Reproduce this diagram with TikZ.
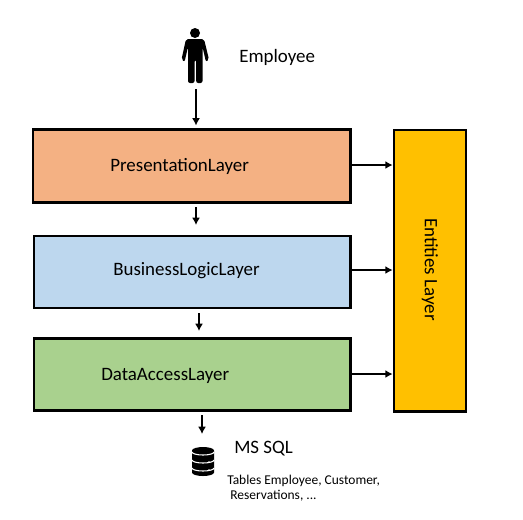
\documentclass[tikz,border=0pt]{standalone}
\usepackage{fontspec}
\usetikzlibrary{arrows.meta}
\setmainfont{Carlito}
\definecolor{presfill}{HTML}{F4B183}
\definecolor{busfill}{HTML}{BDD7EE}
\definecolor{datafill}{HTML}{A9D18E}
\definecolor{entfill}{HTML}{FFC000}
\tikzset{
  layerbox/.style={draw,line width=2pt,outer sep=0pt,inner sep=0pt,anchor=north west},
  flow/.style={-{Latex[length=5.5pt,width=6pt]},line width=1.6pt,shorten >=3pt},
  sideflow/.style={-{Latex[length=5.5pt,width=6pt]},line width=1.6pt,shorten >=1pt},
  lbl/.style={inner sep=0pt,anchor=west,font=\fontsize{14.2}{16}\selectfont},
  smalllbl/.style={inner sep=0pt,anchor=west,font=\fontsize{10.1}{12}\selectfont}
}
\begin{document}
\begin{tikzpicture}[x=0.75pt,y=-0.75pt]
    \useasboundingbox (0,0) rectangle (523,519);

    % layers
    \node[layerbox,fill=presfill,minimum width=238pt,minimum height=54.5pt] (pres) at (33,129.5) {};
    \node[layerbox,fill=busfill,minimum width=237.5pt,minimum height=54pt] (bus) at (34,236) {};
    \node[layerbox,fill=datafill,minimum width=237.5pt,minimum height=54pt] (data) at (34,338.5) {};
    \node[layerbox,fill=entfill,minimum width=54pt,minimum height=211pt] (ent) at (394,130) {};

    \node[lbl] (prestxt) at (110,166) {PresentationLayer};
    \node[lbl] (bustxt) at (113,271) {BusinessLogicLayer};
    \node[lbl] (datatxt) at (101,376) {DataAccessLayer};
    \node[inner sep=0pt,rotate=-90,font=\fontsize{14.2}{16}\selectfont] (enttxt) at (430,269.5) {Entities Layer};

    % person
    \fill (195,33) circle (5);
    \fill[rounded corners=1.5pt] (186,39) -- (204,39) -- (209,59.5) -- (206,62) -- (202.5,47)
        -- (202.5,83) -- (196.2,83) -- (196.2,60) -- (194.5,60) -- (194.5,83) -- (188,83)
        -- (188,47) -- (184.5,62) -- (181.5,59.5) -- cycle;
    \coordinate (person) at (196,89);
    \node[lbl] (emp) at (239,57) {Employee};

    % database
    \fill (192,450.5) arc (180:360:11 and 3.5) -- (214,472.5) arc (0:180:11 and 3.5) -- cycle;
    \foreach \yy in {452,460,468} {
        \draw[white,line width=0.8pt] (192,\yy) arc (180:0:11 and 3);
    }
    \foreach \yy in {462,470} {
        \fill[white] (209,\yy) circle (0.9);
    }
    \coordinate (dbin) at (202,415);
    \node[lbl] (sql) at (234,449) {MS SQL};
    \node[smalllbl] (tbl) at (227,481) {Tables Employee, Customer,};
    \node[smalllbl] (res) at (230,496) {Reservations, ...};

    % arrows
    \draw[flow] (person) -- (person |- pres.north);
    \draw[flow] (196,207) -- (196,229);
    \draw[flow] (199,313) -- (199,335);
    \draw[flow,shorten >=0pt] (dbin) -- (202,434);
    \draw[sideflow] (pres.east |- 0,165) -- (ent.west |- 0,165);
    \draw[sideflow] (bus.east |- 0,270) -- (ent.west |- 0,270);
    \draw[sideflow] (data.east |- 0,374) -- (ent.west |- 0,374);
\end{tikzpicture}
\end{document}
